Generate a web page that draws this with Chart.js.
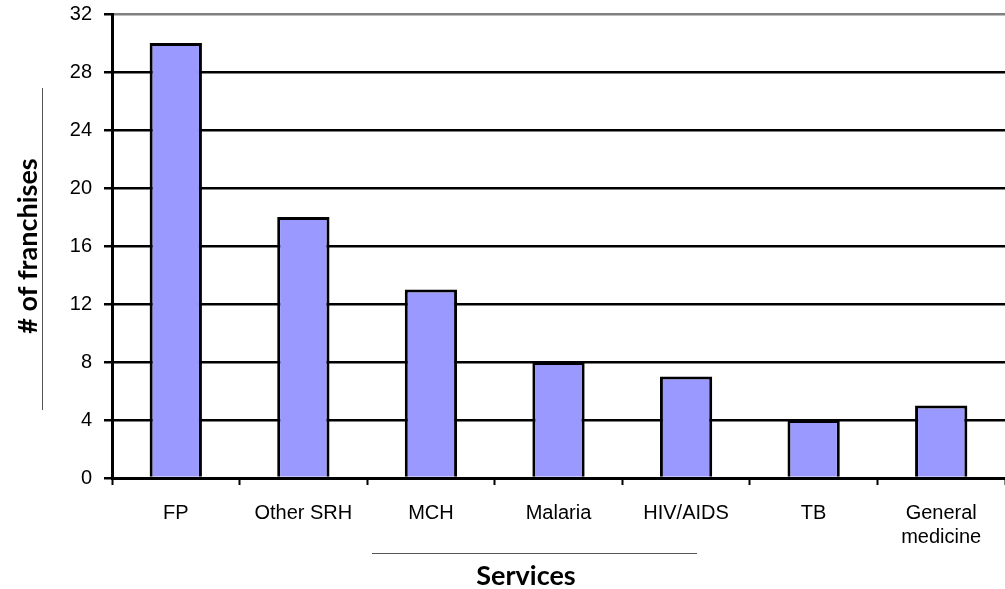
<!DOCTYPE html>
<html>
<head>
<meta charset="utf-8">
<script src="https://cdn.jsdelivr.net/npm/chart.js@4/dist/chart.umd.min.js"></script>
<style>
  html, body { margin: 0; padding: 0; background: #fff; }
  #wrap { width: 1005px; height: 589px; position: relative; }
</style>
</head>
<body>
<div id="wrap"><canvas id="chart"></canvas></div>
<script>
// chart data
const services = ['FP', 'Other SRH', 'MCH', 'Malaria', 'HIV/AIDS', 'TB', ['General', 'medicine']];
const franchiseCounts = [30, 18, 13, 8, 7, 4, 5];
const yTickMax = 32;
const yTickStep = 4;

const yTitle = '# of franchises';
const xTitle = 'Services';

// draws the x title and the two thin rules next to the axis titles
const titleDecor = {
    id: 'titleDecor',
    afterDraw(chart) {
        const ctx = chart.ctx;
        const area = chart.chartArea;
        ctx.save();
        ctx.strokeStyle = '#555';
        ctx.lineWidth = 1;
        // rule beside y title
        ctx.beginPath();
        ctx.moveTo(42.5, area.top + 74);
        ctx.lineTo(42.5, area.bottom - 68);
        ctx.stroke();
        // rule above x title
        ctx.beginPath();
        ctx.moveTo(372, 553.5);
        ctx.lineTo(697, 553.5);
        ctx.stroke();
        // x title
        ctx.fillStyle = '#000';
        ctx.font = 'bold 27px Lato';
        ctx.textAlign = 'center';
        ctx.textBaseline = 'alphabetic';
        ctx.fillText(xTitle, 526, 585);
        ctx.restore();
    }
};

new Chart(document.getElementById('chart'), {
    type: 'bar',
    data: {
        labels: services,
        datasets: [{
            data: franchiseCounts,
            backgroundColor: '#9999ff',
            borderColor: '#000',
            borderWidth: 3,
            borderSkipped: 'bottom',
            categoryPercentage: 1,
            barPercentage: 0.41
        }]
    },
    options: {
        responsive: true,
        maintainAspectRatio: false,
        animation: false,
        layout: { padding: { top: 14, right: 0, left: 0, bottom: 0 } },
        plugins: {
            legend: { display: false },
            tooltip: { enabled: false }
        },
        scales: {
            x: {
                afterFit: scale => {
                    scale.height = 111;
                    scale.paddingLeft = 0;
                    scale.paddingRight = 0;
                },
                grid: {
                    offset: true,
                    drawOnChartArea: false,
                    drawTicks: true,
                    tickLength: 7,
                    tickWidth: 2,
                    tickColor: '#000'
                },
                border: { display: true, color: '#000', width: 3 },
                ticks: {
                    color: '#000',
                    padding: 16,
                    maxRotation: 0,
                    autoSkip: false,
                    font: { family: '"Liberation Sans", Arial, sans-serif', size: 20, lineHeight: 1.2 }
                }
            },
            y: {
                min: 0,
                max: yTickMax,
                afterFit: scale => {
                    scale.width = 112;
                    scale.paddingTop = 0;
                    scale.paddingBottom = 0;
                },
                grid: {
                    color: ctx => ctx.tick && ctx.tick.value === yTickMax ? '#808080' : '#000',
                    lineWidth: 2.5,
                    drawTicks: true,
                    tickLength: 8,
                    tickColor: '#000',
                    tickWidth: 2.5
                },
                border: { display: true, color: '#000', width: 3 },
                ticks: {
                    stepSize: yTickStep,
                    color: '#000',
                    padding: 12,
                    font: { family: '"Liberation Sans", Arial, sans-serif', size: 20 }
                },
                title: {
                    display: true,
                    text: yTitle,
                    color: '#000',
                    font: { family: 'Lato', size: 27, weight: 'bold' },
                    padding: { top: 12, bottom: 0 }
                }
            }
        }
    },
    plugins: [titleDecor]
});
</script>
</body>
</html>
